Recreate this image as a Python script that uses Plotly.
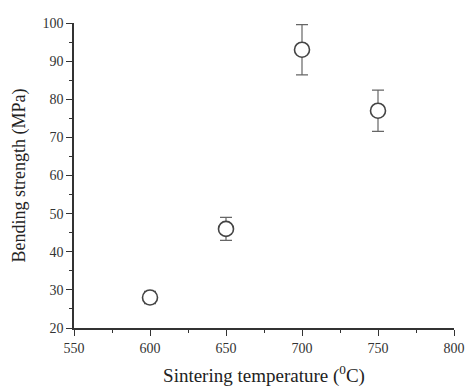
import plotly.graph_objects as go

temperature = [600, 650, 700, 750]
strength = [28, 46, 93, 77]
error = [1.6, 3.0, 6.6, 5.4]

x_ticks = [550, 600, 650, 700, 750, 800]
y_ticks = [20, 30, 40, 50, 60, 70, 80, 90, 100]

fig = go.Figure()
fig.add_trace(go.Scatter(
    x=temperature, y=strength, mode="markers",
    marker=dict(symbol="circle", size=15, color="white", line=dict(width=1.6, color="#444")),
    error_y=dict(type="data", array=error, visible=True, color="#666", thickness=1.2, width=6),
))

axis_common = dict(
    showline=True, linecolor="#333", linewidth=1.5, ticks="outside", ticklen=6, tickwidth=1.2,
    tickcolor="#333", showgrid=False, zeroline=False, mirror=False,
    tickfont=dict(family="Liberation Serif", size=14, color="#333"),
)
fig.update_xaxes(range=[550, 800], tickvals=x_ticks,
                 minor=dict(dtick=25, ticks="outside", ticklen=3, tickcolor="#333", tickwidth=1.2),
                 title=dict(text="Sintering temperature (<sup>0</sup>C)", standoff=14,
                            font=dict(family="Liberation Serif", size=19, color="#222")),
                 **axis_common)
fig.update_yaxes(range=[20, 100], tickvals=y_ticks,
                 minor=dict(dtick=5, ticks="outside", ticklen=3, tickcolor="#333", tickwidth=1.2),
                 title=dict(text="Bending strength (MPa)", standoff=12,
                            font=dict(family="Liberation Serif", size=18, color="#222")),
                 **axis_common)
fig.update_layout(
    width=465, height=383, showlegend=False,
    margin=dict(l=66, r=12, t=8, b=60),
    plot_bgcolor="white", paper_bgcolor="white",
)
fig.write_html("out.html")
